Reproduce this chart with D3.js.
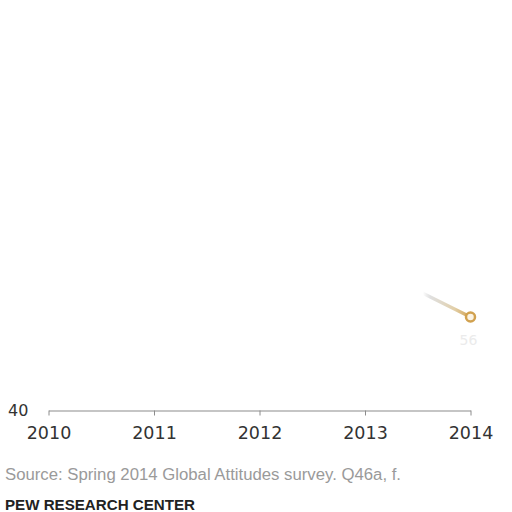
<!DOCTYPE html>
<html>

<head>
    <meta charset="utf-8">
    <title>Pew chart</title>
    <script type="text/javascript" src="https://cdnjs.cloudflare.com/ajax/libs/d3/7.8.5/d3.min.js"></script>
    <style>
        body {
            margin: 0;
            background: #fff;
        }

        .year text {
            font-family: "DejaVu Sans", sans-serif;
            font-size: 17.5px;
            fill: #333;
        }

        .note {
            font-family: "Liberation Sans", Arial, sans-serif;
        }
    </style>
</head>

<body>
    <div id="chart"></div>

    <script type="text/javascript">
        // data (upper part of the series is not visible)
        const years = [2010, 2011, 2012, 2013, 2014]
        const seriesYears = [2013, 2014]
        const seriesValues = [65, 56]
        const yTicks = [40]
        const pointLabel = "56"
        const sourceText = "Source: Spring 2014 Global Attitudes survey. Q46a, f."
        const creditText = "PEW RESEARCH CENTER"

        var width = 512,
            height = 512,
            gold = "#d1a14f";

        var svg = d3.select('#chart').append('svg')
            .attr('width', width)
            .attr('height', height);

        var x = d3.scaleLinear()
            .domain([2010, 2014])
            .range([48.5, 470.5]);

        var y = d3.scaleLinear()
            .domain([40, 100])
            .range([410.5, 60]);

        // x axis: baseline with small ticks hanging down
        var xAxis = svg.append("g")
            .attr("class", "year")
            .attr("transform", "translate(0," + y(40) + ")")
            .call(d3.axisBottom(x).tickValues(years).tickFormat(d3.format("d")).tickSize(5).tickSizeOuter(0))

        xAxis.select(".domain").attr("stroke", "#8c8c8c").attr("stroke-width", 1.2)
        xAxis.selectAll(".tick line").attr("stroke", "#8c8c8c")
        xAxis.selectAll(".tick text").attr("dy", "1.05em").attr("y", 10.5)

        // y tick label
        svg.selectAll(".ylab")
            .data(yTicks)
            .enter()
            .append("text")
            .attr("class", "ylab")
            .attr("x", 8)
            .attr("y", d => y(d) + 5)
            .style("font-family", "DejaVu Sans, sans-serif")
            .style("font-size", "16px")
            .style("fill", "#333")
            .text(d => d);

        // faded line tail
        var grad = svg.append("defs").append("linearGradient")
            .attr("id", "tail");
        grad.append("stop").attr("offset", "0%").attr("stop-color", "#ccc").attr("stop-opacity", 0);
        grad.append("stop").attr("offset", "55%").attr("stop-color", "#ccc").attr("stop-opacity", 0);
        grad.append("stop").attr("offset", "62%").attr("stop-color", "#d8d8d8").attr("stop-opacity", 0.8);
        grad.append("stop").attr("offset", "85%").attr("stop-color", "#e2cfa8").attr("stop-opacity", 1);
        grad.append("stop").attr("offset", "100%").attr("stop-color", gold).attr("stop-opacity", 1);

        var line = d3.line()
            .x((d, i) => x(seriesYears[i]))
            .y(d => y(d));

        svg.append("path")
            .datum(seriesValues)
            .attr("d", line)
            .attr("fill", "none")
            .attr("stroke", "url(#tail)")
            .attr("stroke-width", 3.5)
            .attr("stroke-linecap", "round");

        // last point marker
        var last = seriesValues.length - 1;
        svg.append("circle")
            .attr("cx", x(seriesYears[last]))
            .attr("cy", y(seriesValues[last]))
            .attr("r", 4.5)
            .attr("fill", "#fbf3e4")
            .attr("stroke", gold)
            .attr("stroke-width", 2.5);

        svg.append("text")
            .attr("x", x(seriesYears[last]) - 2)
            .attr("y", y(seriesValues[last]) + 28)
            .attr("text-anchor", "middle")
            .style("font-family", "DejaVu Sans, sans-serif")
            .style("font-size", "14px")
            .style("fill", "#ebebeb")
            .text(pointLabel);

        // notes
        svg.append("text")
            .attr("class", "note")
            .attr("x", 5)
            .attr("y", 480)
            .attr("textLength", 396)
            .attr("lengthAdjust", "spacingAndGlyphs")
            .style("font-size", "16px")
            .style("fill", "#9a9a9a")
            .text(sourceText);

        svg.append("text")
            .attr("class", "note")
            .attr("x", 5)
            .attr("y", 510)
            .attr("textLength", 190)
            .attr("lengthAdjust", "spacingAndGlyphs")
            .style("font-size", "15px")
            .style("font-weight", "bold")
            .style("fill", "#222")
            .text(creditText);
    </script>
</body>

</html>
